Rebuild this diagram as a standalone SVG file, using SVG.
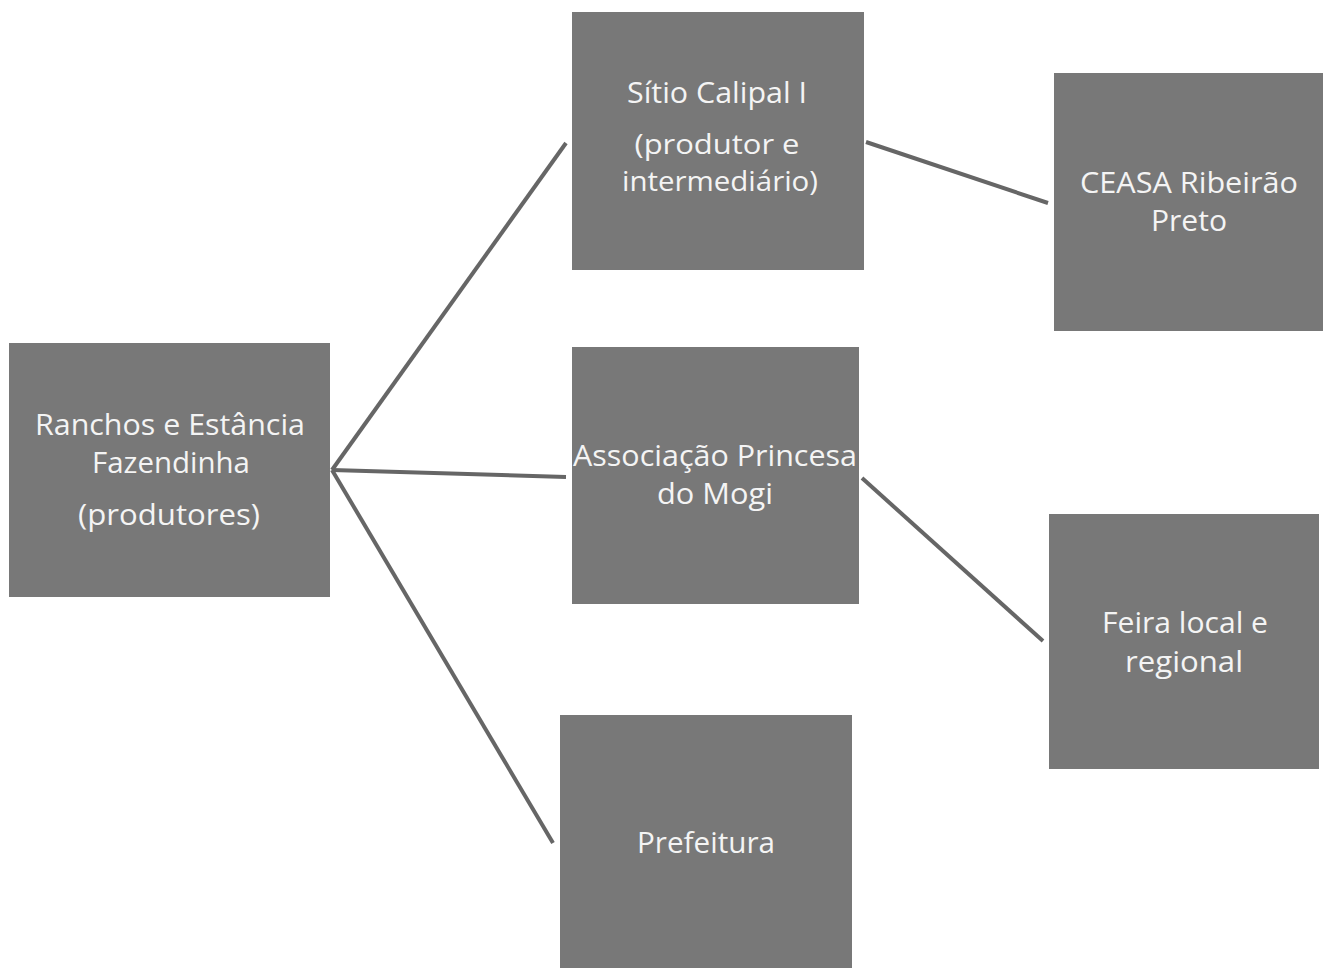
<svg xmlns="http://www.w3.org/2000/svg" width="1323" height="968" viewBox="0 0 1323 968">
<style>
.box{fill:#787878;}
.lbl{font-family:"Open Sans","Liberation Sans",sans-serif;font-size:29px;fill:#f4f4f4;text-anchor:middle;}
.sm{font-size:27px;}
.conn{stroke:#666666;stroke-width:4;fill:none;stroke-linecap:butt;}
</style>
<rect width="1323" height="968" fill="#ffffff"/>
<g id="connectors">
<line class="conn" x1="332" y1="470" x2="566" y2="143"/>
<line class="conn" x1="332" y1="470" x2="566" y2="477"/>
<line class="conn" x1="332" y1="470" x2="553" y2="843"/>
<line class="conn" x1="866" y1="142" x2="1048" y2="203"/>
<line class="conn" x1="862" y1="478" x2="1043" y2="641"/>
</g>
<g id="ranchos">
<rect class="box" x="9" y="343" width="321" height="254"/>
<text class="lbl" x="170" y="435" textLength="270" lengthAdjust="spacingAndGlyphs">Ranchos e Estância</text>
<text class="lbl" x="171" y="473" textLength="158" lengthAdjust="spacingAndGlyphs">Fazendinha</text>
<text class="lbl" x="169" y="525" textLength="182" lengthAdjust="spacingAndGlyphs">(produtores)</text>
</g>
<g id="sitio">
<rect class="box" x="572" y="12" width="292" height="258"/>
<text class="lbl" x="717" y="103" textLength="180" lengthAdjust="spacingAndGlyphs">Sítio Calipal I</text>
<text class="lbl sm" x="717" y="154" textLength="165" lengthAdjust="spacingAndGlyphs">(produtor e</text>
<text class="lbl sm" x="720" y="191" textLength="196" lengthAdjust="spacingAndGlyphs">intermediário)</text>
</g>
<g id="ceasa">
<rect class="box" x="1054" y="73" width="269" height="258"/>
<text class="lbl" x="1189" y="193" textLength="218" lengthAdjust="spacingAndGlyphs">CEASA Ribeirão</text>
<text class="lbl" x="1189" y="231" textLength="76" lengthAdjust="spacingAndGlyphs">Preto</text>
</g>
<g id="associacao">
<rect class="box" x="572" y="347" width="287" height="257"/>
<text class="lbl" x="715" y="466" textLength="284" lengthAdjust="spacingAndGlyphs">Associação Princesa</text>
<text class="lbl" x="715" y="504" textLength="116" lengthAdjust="spacingAndGlyphs">do Mogi</text>
</g>
<g id="feira">
<rect class="box" x="1049" y="514" width="270" height="255"/>
<text class="lbl" x="1185" y="633" textLength="166" lengthAdjust="spacingAndGlyphs">Feira local e</text>
<text class="lbl" x="1184" y="672" textLength="118" lengthAdjust="spacingAndGlyphs">regional</text>
</g>
<g id="prefeitura">
<rect class="box" x="560" y="715" width="292" height="253"/>
<text class="lbl" x="706" y="853" textLength="138" lengthAdjust="spacingAndGlyphs">Prefeitura</text>
</g>
</svg>
